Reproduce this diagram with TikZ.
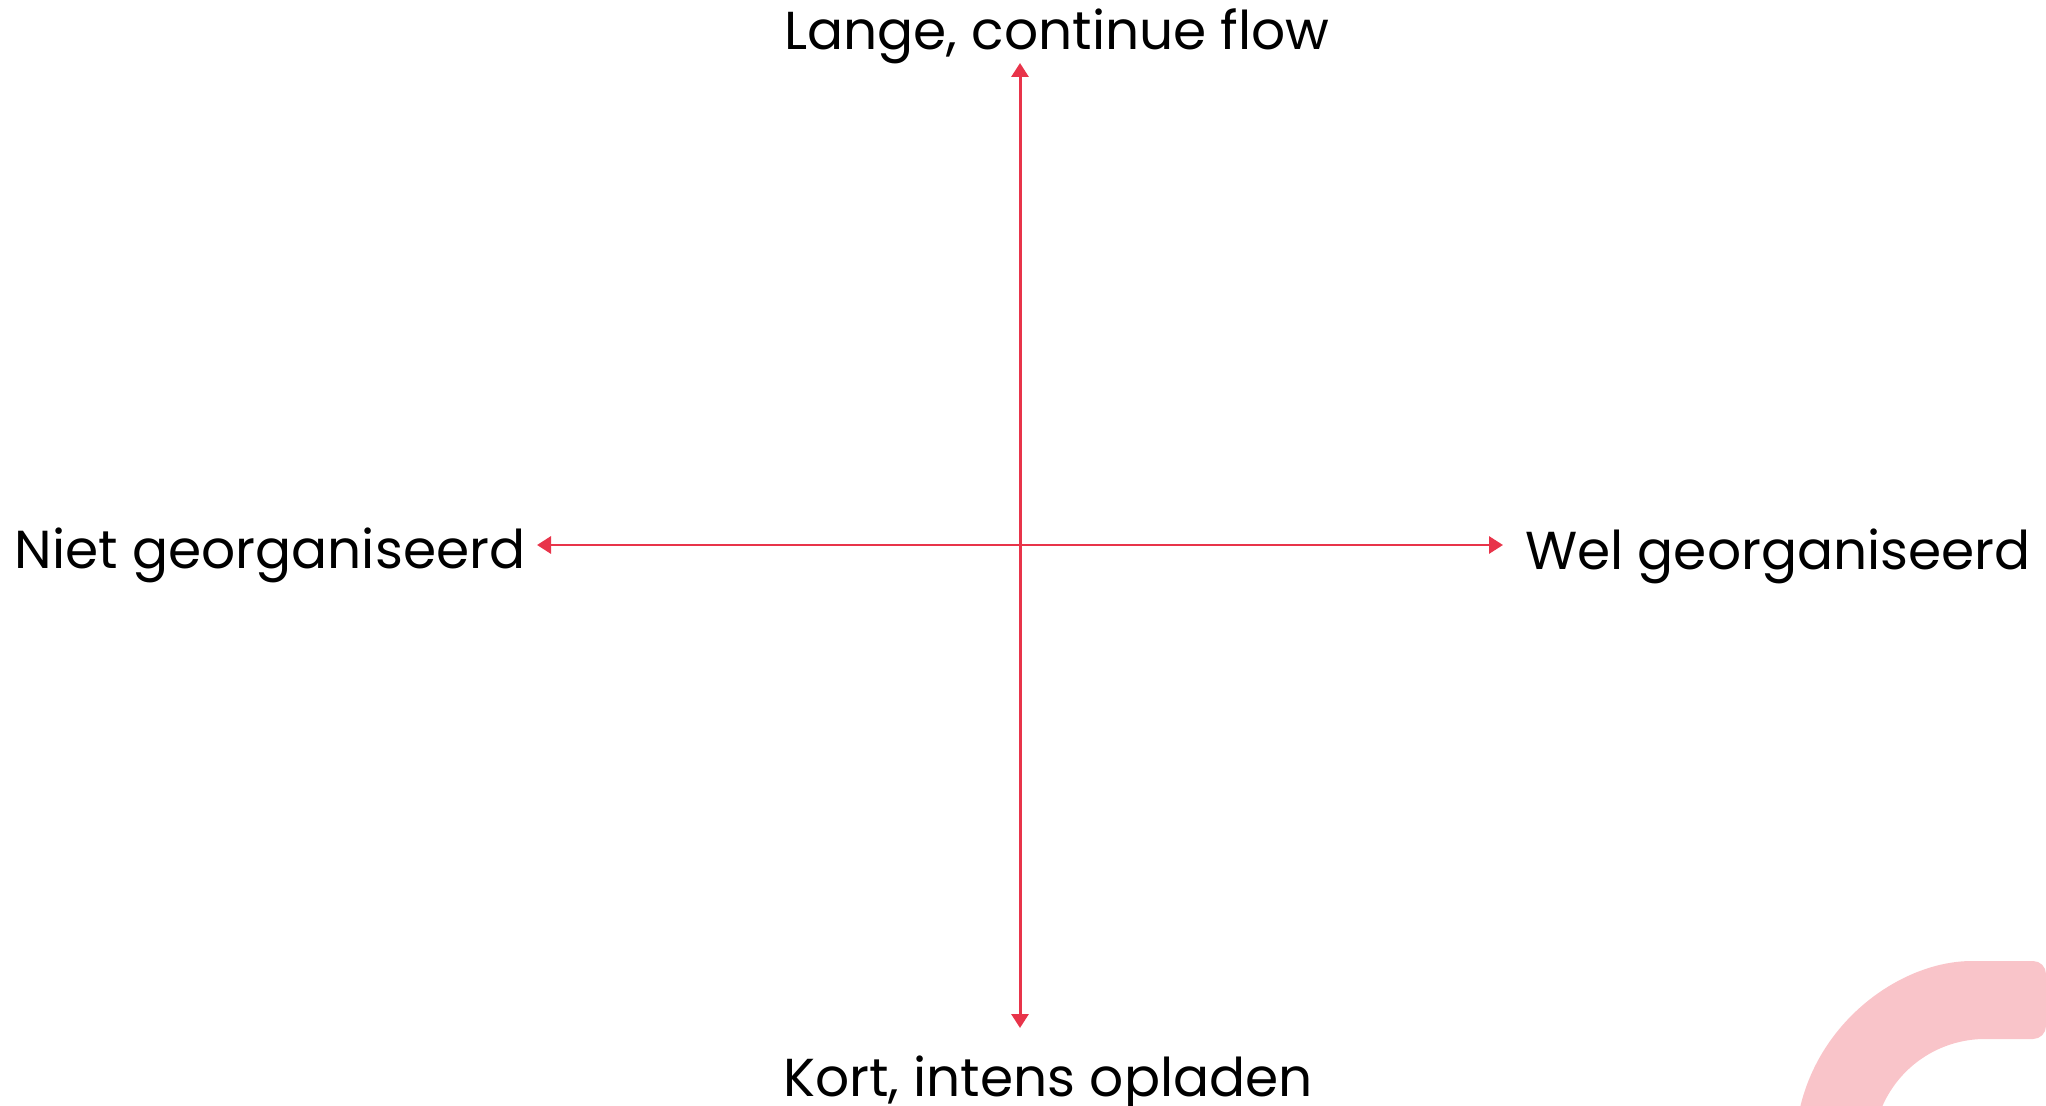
\documentclass[tikz,border=0pt]{standalone}
\usepackage{fontspec}
\setmainfont{Poppins}
\usetikzlibrary{positioning}
\usetikzlibrary{arrows.meta}
\usetikzlibrary{calc}

\definecolor{axisred}{RGB}{232,52,74}
\definecolor{arcpink}{RGB}{249,196,201}

\begin{document}
\begin{tikzpicture}[scale=1,
        axis/.style={axisred, line width=0.85pt, {Triangle[length=1.4mm,width=1.7mm]}-{Triangle[length=1.4mm,width=1.7mm]}},
        lbl/.style={font=\fontsize{15.2}{18}\selectfont, inner sep=0pt, anchor=base}]
    \useasboundingbox (0,0) rectangle (20.46,11.05);

    % Define the coordinates of the arrow ends
    \coordinate (top) at (10.20,10.42);
    \coordinate (bottom) at (10.20,0.77);
    \coordinate (left) at (5.37,5.60);
    \coordinate (right) at (15.03,5.60);

    % Pink band in the corner
    \begin{scope}
        \clip (0,0) rectangle (20.46,11.05);
        \fill[arcpink] (19.85,0.66) [rounded corners=1.3mm] -- (20.46,0.66) -- (20.46,1.44) -- (19.85,1.44) [sharp corners]
            arc[start angle=90, end angle=200, radius=1.90] -- ($(19.85,-0.46)+(200:1.12)$)
            arc[start angle=200, end angle=90, radius=1.12] -- cycle;
    \end{scope}

    % Draw the axes
    \draw[axis] (left) -- (right);
    \draw[axis] (bottom) -- (top);

    % Labels at the four ends
    \foreach \name/\pos/\txt in {flow/{(10.57,10.55)}/{Lange, continue flow},
                                  kort/{(10.48,0.09)}/{Kort, intens opladen},
                                  niet/{(2.70,5.36)}/{Niet georganiseerd},
                                  wel/{(17.78,5.35)}/{Wel georganiseerd}}
        \node[lbl] (\name) at \pos {\txt};

\end{tikzpicture}
\end{document}
